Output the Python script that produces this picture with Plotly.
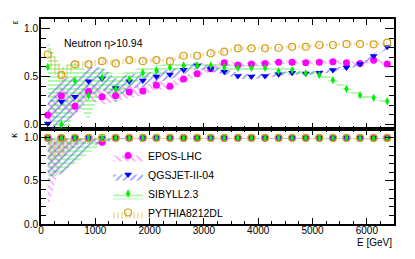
import plotly.graph_objects as go

# ---------------- data ----------------
energy = [125, 375, 625, 875, 1125, 1375, 1625, 1875, 2125, 2375, 2625, 2875, 3125,
          3375, 3625, 3875, 4125, 4375, 4625, 4875, 5125, 5375, 5625, 5875, 6125, 6375]

# epsilon (top panel)
eps_epos = [0.10, 0.30, 0.19, 0.345, 0.29, 0.30, 0.34, 0.35, 0.41, 0.40, 0.475, 0.53, 0.58,
            0.645, 0.62, 0.63, 0.635, 0.65, 0.65, 0.645, 0.65, 0.655, 0.645, 0.635, 0.67, 0.63]
eps_epos_err = [0.12, 0.12, 0.10, 0.09, 0.08, 0.07, 0.06, 0.05, 0.045, 0.04, 0.035, 0.03, 0.03,
                0.025, 0.025, 0.02, 0.02, 0.02, 0.02, 0.02, 0.02, 0.02, 0.02, 0.02, 0.02, 0.02]

eps_qgs = [0.01, 0.24, 0.29, 0.45, 0.48, 0.38, 0.45, 0.46, 0.50, 0.52, 0.57, 0.615, 0.58,
           0.55, 0.505, 0.50, 0.505, 0.525, 0.54, 0.533, 0.54, 0.567, 0.595, 0.63, 0.714, 0.81]
eps_qgs_err = [0.30, 0.25, 0.20, 0.15, 0.12, 0.10, 0.08, 0.07, 0.06, 0.05, 0.045, 0.04, 0.035,
               0.03, 0.03, 0.025, 0.025, 0.02, 0.02, 0.02, 0.02, 0.02, 0.02, 0.02, 0.02, 0.02]

eps_sib = [0.60, 0.0, 0.455, 0.30, 0.49, 0.37, 0.475, 0.54, 0.565, 0.595, 0.615, 0.615, 0.615,
           0.60, 0.59, 0.59, 0.59, 0.557, 0.567, 0.533, 0.515, 0.463, 0.37, 0.306, 0.278, 0.243]
eps_sib_err = [0.26, 0.60, 0.20, 0.25, 0.10, 0.15, 0.08, 0.06, 0.05, 0.045, 0.04, 0.035, 0.035,
               0.03, 0.03, 0.03, 0.03, 0.03, 0.025, 0.025, 0.025, 0.025, 0.025, 0.025, 0.02, 0.02]

eps_pyt = [0.73, 0.515, 0.627, 0.627, 0.66, 0.637, 0.672, 0.66, 0.672, 0.66, 0.717, 0.717, 0.742,
           0.759, 0.794, 0.794, 0.794, 0.80, 0.81, 0.81, 0.829, 0.829, 0.839, 0.839, 0.836, 0.853]
eps_pyt_err = [0.10, 0.08, 0.04, 0.03, 0.03, 0.025, 0.025, 0.02, 0.02, 0.02, 0.02, 0.02, 0.02,
               0.02, 0.02, 0.015, 0.015, 0.015, 0.015, 0.015, 0.015, 0.015, 0.015, 0.015, 0.015, 0.015]

# kappa (bottom panel)
kap_epos = [1.0, 1.0, 1.0, 1.0, 0.95, 1.0, 1.0, 1.0, 1.0, 1.0, 1.0, 1.0, 1.0,
            1.0, 1.0, 1.0, 1.0, 1.0, 1.0, 1.0, 1.0, 1.0, 1.0, 1.0, 1.0, 1.0]
kap_epos_err = [0.82, 0.25, 0.10, 0.05, 0.03, 0.02, 0.01, 0.01, 0.01, 0.01, 0.01, 0.01, 0.01,
                0.01, 0.01, 0.01, 0.01, 0.01, 0.01, 0.01, 0.01, 0.01, 0.01, 0.01, 0.01, 0.01]

kap_qgs = [1.0, 1.0, 1.0, 1.0, 1.0, 1.0, 1.0, 1.0, 1.0, 1.0, 1.0, 1.0, 1.0,
           1.0, 1.0, 1.0, 1.0, 1.0, 1.0, 1.0, 1.0, 1.0, 1.0, 1.0, 1.0, 1.0]
kap_qgs_err = [0.45, 0.42, 0.30, 0.12, 0.05, 0.02, 0.01, 0.01, 0.01, 0.01, 0.01, 0.01, 0.01,
               0.01, 0.01, 0.01, 0.01, 0.01, 0.01, 0.01, 0.01, 0.01, 0.01, 0.01, 0.01, 0.01]

kap_sib = [1.0, 1.0, 1.0, 1.0, 1.0, 1.0, 1.0, 1.0, 1.0, 1.0, 1.0, 1.0, 1.0,
           1.0, 1.0, 1.0, 1.0, 1.0, 1.0, 1.0, 1.0, 1.0, 1.0, 0.995, 0.995, 0.995]
kap_sib_err = [0.50, 0.40, 0.30, 0.18, 0.07, 0.02, 0.01, 0.01, 0.01, 0.01, 0.01, 0.01, 0.01,
               0.01, 0.01, 0.01, 0.01, 0.01, 0.01, 0.01, 0.01, 0.01, 0.01, 0.01, 0.01, 0.01]

kap_pyt = [1.0, 1.0, 1.0, 1.0, 1.0, 1.0, 1.0, 1.0, 1.0, 1.0, 1.0, 1.0, 1.0,
           1.0, 1.0, 1.0, 1.0, 1.0, 1.0, 1.0, 1.0, 1.0, 1.0, 1.0, 1.0, 1.0]
kap_pyt_err = [0.25, 0.22, 0.04, 0.02, 0.01, 0.01, 0.01, 0.01, 0.01, 0.01, 0.01, 0.01, 0.01,
               0.01, 0.01, 0.01, 0.01, 0.01, 0.01, 0.01, 0.01, 0.01, 0.01, 0.01, 0.01, 0.01]

model_names = ["EPOS-LHC", "QGSJET-II-04", "SIBYLL2.3", "PYTHIA8212DL"]
x_ticks = [0, 1000, 2000, 3000, 4000, 5000, 6000]
y_ticks = [0.0, 0.5, 1.0]
label_text = "Neutron η>10.94"

# ---------------- styles ----------------
styles = [
    dict(color="#ff00ff", band="#ff44ff", shape="\\", psize=5, symbol="circle", msize=7, mlw=0),
    dict(color="#0000ff", band="#3030ff", shape="/", psize=5, symbol="triangle-down", msize=7, mlw=0),
    dict(color="#00ee00", band="#11e611", shape="-", psize=4, symbol="diamond-tall", msize=6, mlw=0),
    dict(color="#d4a017", band="#d4a017", shape="|", psize=4, symbol="circle-open", msize=7, mlw=1.2),
]

eps_data = [(eps_epos, eps_epos_err), (eps_qgs, eps_qgs_err), (eps_sib, eps_sib_err), (eps_pyt, eps_pyt_err)]
kap_data = [(kap_epos, kap_epos_err), (kap_qgs, kap_qgs_err), (kap_sib, kap_sib_err), (kap_pyt, kap_pyt_err)]

FONT = "Liberation Sans, Arial, sans-serif"
SOLID = 0.32

fig = go.Figure()


def pattern(st):
    return dict(shape=st["shape"], fgcolor=st["band"], bgcolor="rgba(0,0,0,0)",
                size=st["psize"], solidity=SOLID)


def marker(st):
    return dict(symbol=st["symbol"], size=st["msize"], color=st["color"],
                line=dict(color=st["color"], width=st["mlw"]))


def band_trace(vals, lo_err, hi_err, st, xa, ya):
    upper = [v + e for v, e in zip(vals, hi_err)]
    lower = [v - e for v, e in zip(vals, lo_err)]
    return go.Scatter(
        x=energy + energy[::-1], y=upper + lower[::-1],
        fill="toself", fillcolor="rgba(0,0,0,0)", fillpattern=pattern(st),
        mode="lines", line=dict(width=0), showlegend=False, hoverinfo="skip",
        xaxis=xa, yaxis=ya)


# bands
for (vals, err), st in zip(eps_data, styles):
    fig.add_trace(band_trace(vals, err, err, st, "x2", "y2"))
for (vals, err), st in zip(kap_data, styles):
    fig.add_trace(band_trace(vals, err, [0] * len(err), st, "x", "y"))

# markers
for (vals, _), st in zip(eps_data, styles):
    fig.add_trace(go.Scatter(x=energy, y=vals, mode="markers", showlegend=False,
                             marker=marker(st), xaxis="x2", yaxis="y2"))
for (vals, _), st in zip(kap_data, styles):
    fig.add_trace(go.Scatter(x=energy, y=vals, mode="markers", showlegend=False,
                             marker=marker(st), xaxis="x", yaxis="y"))

# legend entries
for name, st in zip(model_names, styles):
    fig.add_trace(go.Scatter(x=[None], y=[None], name=name, mode="markers",
                             fill="toself", fillcolor="rgba(0,0,0,0)", fillpattern=pattern(st),
                             marker=marker(st), xaxis="x", yaxis="y"))

axis_common = dict(
    showgrid=False, zeroline=False, showline=True, linecolor="black", linewidth=2,
    mirror="allticks", ticks="inside", tickcolor="black", tickwidth=1,
    tickfont=dict(family=FONT, size=10, color="black"),
)

fig.update_layout(
    width=415, height=259,
    margin=dict(l=41, r=21, t=19, b=35),
    paper_bgcolor="white", plot_bgcolor="white",
    font=dict(family=FONT, size=10, color="black"),
    xaxis=dict(domain=[0, 1], range=[0, 6500], anchor="y", tickvals=x_ticks, ticklen=6,
               ticklabelstandoff=-4,
               minor=dict(dtick=250, tick0=0, ticklen=3, ticks="inside", tickcolor="black"),
               **axis_common),
    xaxis2=dict(domain=[0, 1], range=[0, 6500], anchor="y2", matches="x", tickvals=x_ticks,
                showticklabels=False, ticklen=6,
                minor=dict(dtick=250, tick0=0, ticklen=3, ticks="inside", tickcolor="black"),
                **axis_common),
    yaxis=dict(domain=[0, 0.462], range=[0, 1.1], anchor="x", tickvals=y_ticks, tickformat=".1f",
               ticklen=9, ticklabelstandoff=-1,
               minor=dict(dtick=0.1, tick0=0, ticklen=5, ticks="inside", tickcolor="black"),
               **axis_common),
    yaxis2=dict(domain=[0.462, 1], range=[-0.05, 1.1], anchor="x2", tickvals=y_ticks, tickformat=".1f",
                ticklen=9, ticklabelstandoff=-1,
                minor=dict(dtick=0.1, tick0=0, ticklen=5, ticks="inside", tickcolor="black"),
                **axis_common),
    legend=dict(x=0.19, y=0.405, xanchor="left", yanchor="top", bgcolor="rgba(0,0,0,0)",
                borderwidth=0, font=dict(family=FONT, size=10.5, color="black"),
                itemwidth=30, tracegroupgap=0),
    annotations=[
        dict(text=label_text, xref="paper", yref="paper", x=0.06, y=0.885, xanchor="left",
             yanchor="middle", showarrow=False, font=dict(family=FONT, size=10.5, color="black")),
        dict(text="ε", xref="paper", yref="paper", x=-0.075, y=1.0, xanchor="center",
             yanchor="top", textangle=-90, showarrow=False, font=dict(family=FONT, size=9)),
        dict(text="κ", xref="paper", yref="paper", x=-0.075, y=0.455, xanchor="center",
             yanchor="top", textangle=-90, showarrow=False, font=dict(family=FONT, size=9)),
        dict(text="E [GeV]", xref="paper", yref="paper", x=1.0, y=-0.09, xanchor="right",
             yanchor="middle", showarrow=False, font=dict(family=FONT, size=10)),
    ],
)

fig.write_html("out.html", post_script="document.body.style.margin='0';",
               config={"displayModeBar": False})
